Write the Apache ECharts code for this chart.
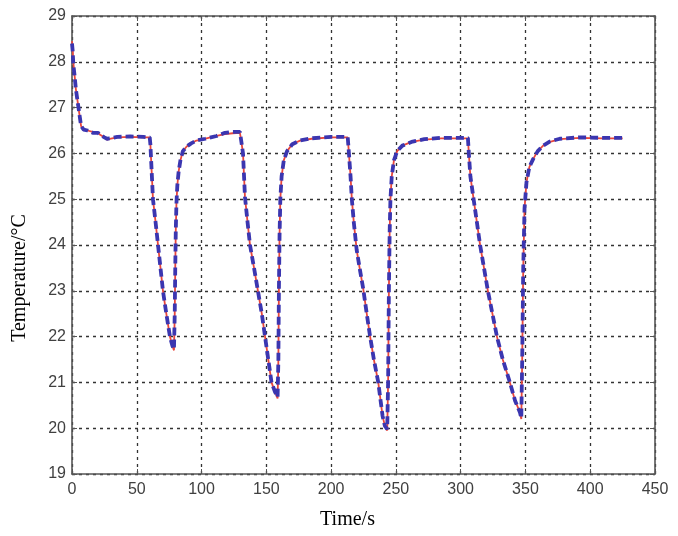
<!DOCTYPE html>
<html>
<head>
<meta charset="utf-8">
<script src="https://cdn.jsdelivr.net/npm/echarts@6/dist/echarts.min.js"></script>
<style>
  html, body { margin: 0; padding: 0; background: #fff; }
  #chart { width: 678px; height: 536px; }
</style>
</head>
<body>
<div id="chart"></div>
<script>
// time in seconds
var timeS = [
  0, 0.5, 1, 2, 3, 4, 5, 6, 7, 9, 12, 16, 20, 22, 25, 27, 30, 35, 45, 55,
  60, 60.5, 61.5, 62.5, 64.5, 66.4, 68.3, 70.2, 72.8, 75.6, 77.5, 78.7,
  79.3, 79.7, 80.1, 80.6, 81.3, 82.3, 83.7, 85.6, 88.5, 92, 96, 103, 111.6, 118, 124,
  129.6, 130.5, 132, 133.5, 135.5, 137.4, 140.5, 143.5, 146.5, 149, 151.5, 154, 156.6, 158.7,
  159.3, 159.7, 160.2, 160.8, 161.8, 163.5, 166, 170, 176, 185, 200,
  212.8, 213.5, 215, 216, 217.5, 219.7, 222, 224.8, 227.5, 230, 233, 236.4, 239.7, 241.5, 243.3,
  244, 244.6, 245.2, 245.8, 246.8, 248.5, 251, 255, 262, 272, 285,
  305.6, 306.3, 307.5, 310, 312.5, 315, 318, 321, 324.5, 328, 332.5, 338, 342, 345.7, 346.8,
  347.5, 348.3, 349.3, 350.8, 353, 356, 359.5, 363.7, 369, 376.5, 392, 410, 425
];

// temperature in degrees C, solid red line
var tempRed = [
  28.45, 28.3, 28.0, 27.7, 27.4, 27.2, 27.0, 26.8, 26.6, 26.52, 26.5, 26.47, 26.45, 26.4, 26.35, 26.3, 26.32, 26.35, 26.36, 26.35,
  26.35, 26.2, 25.6, 25.0, 24.5, 24.0, 23.5, 23.0, 22.5, 22.0, 21.8, 21.7,
  22.5, 23.5, 24.3, 24.9, 25.3, 25.6, 25.85, 26.05, 26.15, 26.22, 26.28, 26.32, 26.38, 26.42, 26.44,
  26.45, 26.3, 26.0, 25.05, 24.5, 24.0, 23.5, 23.0, 22.5, 22.0, 21.5, 21.0, 20.8, 20.65,
  21.5, 23.0, 24.2, 25.0, 25.5, 25.85, 26.05, 26.2, 26.28, 26.32, 26.35,
  26.35, 26.1, 25.5, 25.0, 24.5, 23.9, 23.5, 23.04, 22.5, 22.02, 21.5, 21.0, 20.27, 20.05, 19.95,
  21.0, 23.0, 24.3, 25.0, 25.5, 25.85, 26.05, 26.17, 26.25, 26.3, 26.33,
  26.33, 26.0, 25.5, 25.0, 24.5, 24.0, 23.5, 23.0, 22.5, 22.0, 21.5, 21.0, 20.6, 20.35, 20.2,
  21.5, 23.5, 24.8, 25.37, 25.7, 25.88, 26.05, 26.17, 26.25, 26.31, 26.34, 26.33, 26.33
];

// dashed blue line, almost on top of the red one
var tempBlue = [
  28.4, 28.25, 27.95, 27.7, 27.4, 27.2, 27.0, 26.8, 26.6, 26.52, 26.5, 26.45, 26.45, 26.4, 26.35, 26.32, 26.33, 26.36, 26.37, 26.36,
  26.35, 26.2, 25.6, 25.0, 24.5, 24.0, 23.5, 23.0, 22.5, 22.0, 21.8, 21.72,
  22.5, 23.5, 24.3, 24.9, 25.3, 25.6, 25.85, 26.05, 26.15, 26.22, 26.28, 26.32, 26.38, 26.45, 26.47,
  26.47, 26.3, 26.0, 25.05, 24.5, 24.0, 23.5, 23.0, 22.5, 22.0, 21.5, 21.0, 20.8, 20.68,
  21.5, 23.0, 24.2, 25.0, 25.5, 25.85, 26.05, 26.2, 26.28, 26.33, 26.36,
  26.36, 26.1, 25.5, 25.0, 24.5, 23.9, 23.5, 23.04, 22.5, 22.02, 21.5, 21.0, 20.27, 20.05, 19.98,
  21.0, 23.0, 24.3, 25.0, 25.5, 25.85, 26.05, 26.17, 26.25, 26.31, 26.34,
  26.34, 26.0, 25.5, 25.0, 24.5, 24.0, 23.5, 23.0, 22.5, 22.0, 21.5, 21.0, 20.6, 20.35, 20.22,
  21.5, 23.5, 24.8, 25.37, 25.7, 25.88, 26.05, 26.17, 26.26, 26.32, 26.35, 26.34, 26.34
];

var xTicks = [0, 50, 100, 150, 200, 250, 300, 350, 400, 450];
var yTicks = [19, 20, 21, 22, 23, 24, 25, 26, 27, 28, 29];

function pairs(xs, ys) {
  var out = [];
  for (var i = 0; i < xs.length; i++) out.push([xs[i], ys[i]]);
  return out;
}

var chart = echarts.init(document.getElementById('chart'), null, { renderer: 'canvas' });

var labelFont = { color: '#404040', fontSize: 16, fontFamily: 'Liberation Sans, Arial, sans-serif' };
var gridLine = { show: true, lineStyle: { color: '#333', type: [3, 4], width: 1.3 } };
var boxLine = { show: true, onZero: false, lineStyle: { color: '#555', width: 1.6 } };

var option = {
  backgroundColor: '#fff',
  animation: false,
  grid: { left: 72, right: 23, top: 16, bottom: 62 },
  xAxis: [
    {
      type: 'value',
      min: xTicks[0],
      max: xTicks[xTicks.length - 1],
      interval: 50,
      name: 'Time/s',
      nameLocation: 'middle',
      nameGap: 36,
      nameTextStyle: { color: '#000', fontSize: 20, fontFamily: 'Liberation Serif, Times New Roman, serif', padding: [0, 32, 0, 0] },
      axisLine: boxLine,
      axisTick: { show: true, inside: true, length: 5, lineStyle: { color: '#555' } },
      axisLabel: Object.assign({ margin: 8 }, labelFont),
      splitLine: gridLine
    },
    {
      type: 'value',
      position: 'top',
      min: xTicks[0],
      max: xTicks[xTicks.length - 1],
      interval: 50,
      axisLine: boxLine,
      axisTick: { show: true, inside: true, length: 5, lineStyle: { color: '#555' } },
      axisLabel: { show: false },
      splitLine: { show: false }
    }
  ],
  yAxis: [
    {
      type: 'value',
      min: yTicks[0],
      max: yTicks[yTicks.length - 1],
      interval: 1,
      name: 'Temperature/°C',
      nameLocation: 'middle',
      nameGap: 42,
      nameTextStyle: { color: '#000', fontSize: 20, fontFamily: 'Liberation Serif, Times New Roman, serif', padding: [0, 66, 0, 0] },
      axisLine: boxLine,
      axisTick: { show: true, inside: true, length: 5, lineStyle: { color: '#555' } },
      axisLabel: Object.assign({ margin: 6 }, labelFont),
      splitLine: gridLine
    },
    {
      type: 'value',
      position: 'right',
      min: yTicks[0],
      max: yTicks[yTicks.length - 1],
      interval: 1,
      axisLine: boxLine,
      axisTick: { show: true, inside: true, length: 5, lineStyle: { color: '#555' } },
      axisLabel: { show: false },
      splitLine: { show: false }
    }
  ],
  series: [
    {
      type: 'line',
      data: pairs(timeS, tempRed),
      showSymbol: false,
      smooth: false,
      lineStyle: { color: '#e8463c', width: 1.8 },
      z: 2
    },
    {
      type: 'line',
      data: pairs(timeS, tempBlue),
      showSymbol: false,
      smooth: false,
      lineStyle: { color: '#3b36b0', width: 3.8, type: [8, 4] },
      z: 3
    }
  ]
};

chart.setOption(option);
</script>
</body>
</html>
